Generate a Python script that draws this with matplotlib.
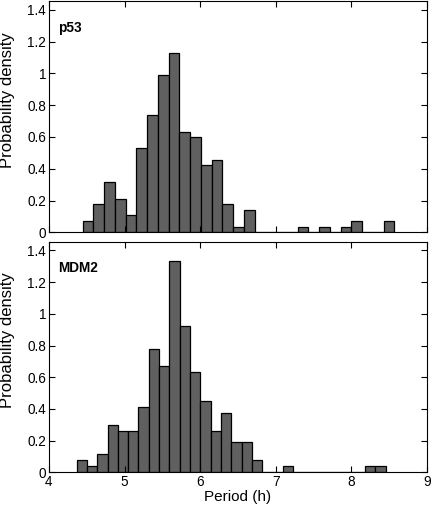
import matplotlib
matplotlib.use('Agg')
import matplotlib.pyplot as plt
from matplotlib.ticker import FuncFormatter

plt.rcParams['font.family'] = ['Liberation Sans', 'DejaVu Sans']

# p53 histogram (29 bins)
p53_start = 4.445
p53_width = 0.1422
p53_density = [0.071, 0.178, 0.319, 0.212, 0.107, 0.529, 0.741, 0.987, 1.129,
               0.634, 0.600, 0.424, 0.458, 0.176, 0.036, 0.141, 0, 0, 0, 0,
               0.036, 0, 0.036, 0, 0.036, 0.071, 0, 0, 0.071]

# MDM2 histogram (30 bins)
mdm2_start = 4.366
mdm2_width = 0.1363
mdm2_density = [0.078, 0.040, 0.113, 0.300, 0.262, 0.262, 0.409, 0.779, 0.668,
                1.331, 0.926, 0.630, 0.447, 0.262, 0.372, 0.189, 0.189, 0.078,
                0, 0, 0.040, 0, 0, 0, 0, 0, 0, 0, 0.040, 0.040]

yticks = [0, 0.2, 0.4, 0.6, 0.8, 1, 1.2, 1.4]
xticks = [4, 5, 6, 7, 8, 9]

fig = plt.figure(figsize=(4.32, 5.08), dpi=100)
ax1 = fig.add_axes([0.1134, 0.5427, 0.875, 0.4553])
ax2 = fig.add_axes([0.1134, 0.0703, 0.875, 0.4539])


def draw_hist(ax, start, width, dens, name):
    lefts = [start + i * width for i in range(len(dens))]
    ax.bar(lefts, dens, width=width, align='edge', color='#606060',
           edgecolor='black', linewidth=0.9)
    ax.set_xlim(4, 9)
    ax.set_ylim(0, 1.455)
    ax.set_xticks(xticks)
    ax.set_yticks(yticks)
    ax.yaxis.set_major_formatter(FuncFormatter(lambda v, p: '%g' % v))
    ax.tick_params(direction='in', top=True, right=True, length=4,
                   width=0.8, labelsize=9.8, pad=2)
    ax.set_ylabel('Probability density', fontsize=12)
    ax.yaxis.set_label_coords(-0.09, 0.572)
    ax.text(0.024, 0.915, name, transform=ax.transAxes, fontsize=9.8,
            fontweight='bold', va='top', ha='left')
    for s in ax.spines.values():
        s.set_linewidth(0.8)


draw_hist(ax1, p53_start, p53_width, p53_density, 'p53')
draw_hist(ax2, mdm2_start, mdm2_width, mdm2_density, 'MDM2')
ax1.tick_params(labelbottom=False)
ax2.set_xlabel('Period (h)', fontsize=11, labelpad=1)

fig.savefig('out.png', dpi=100)
